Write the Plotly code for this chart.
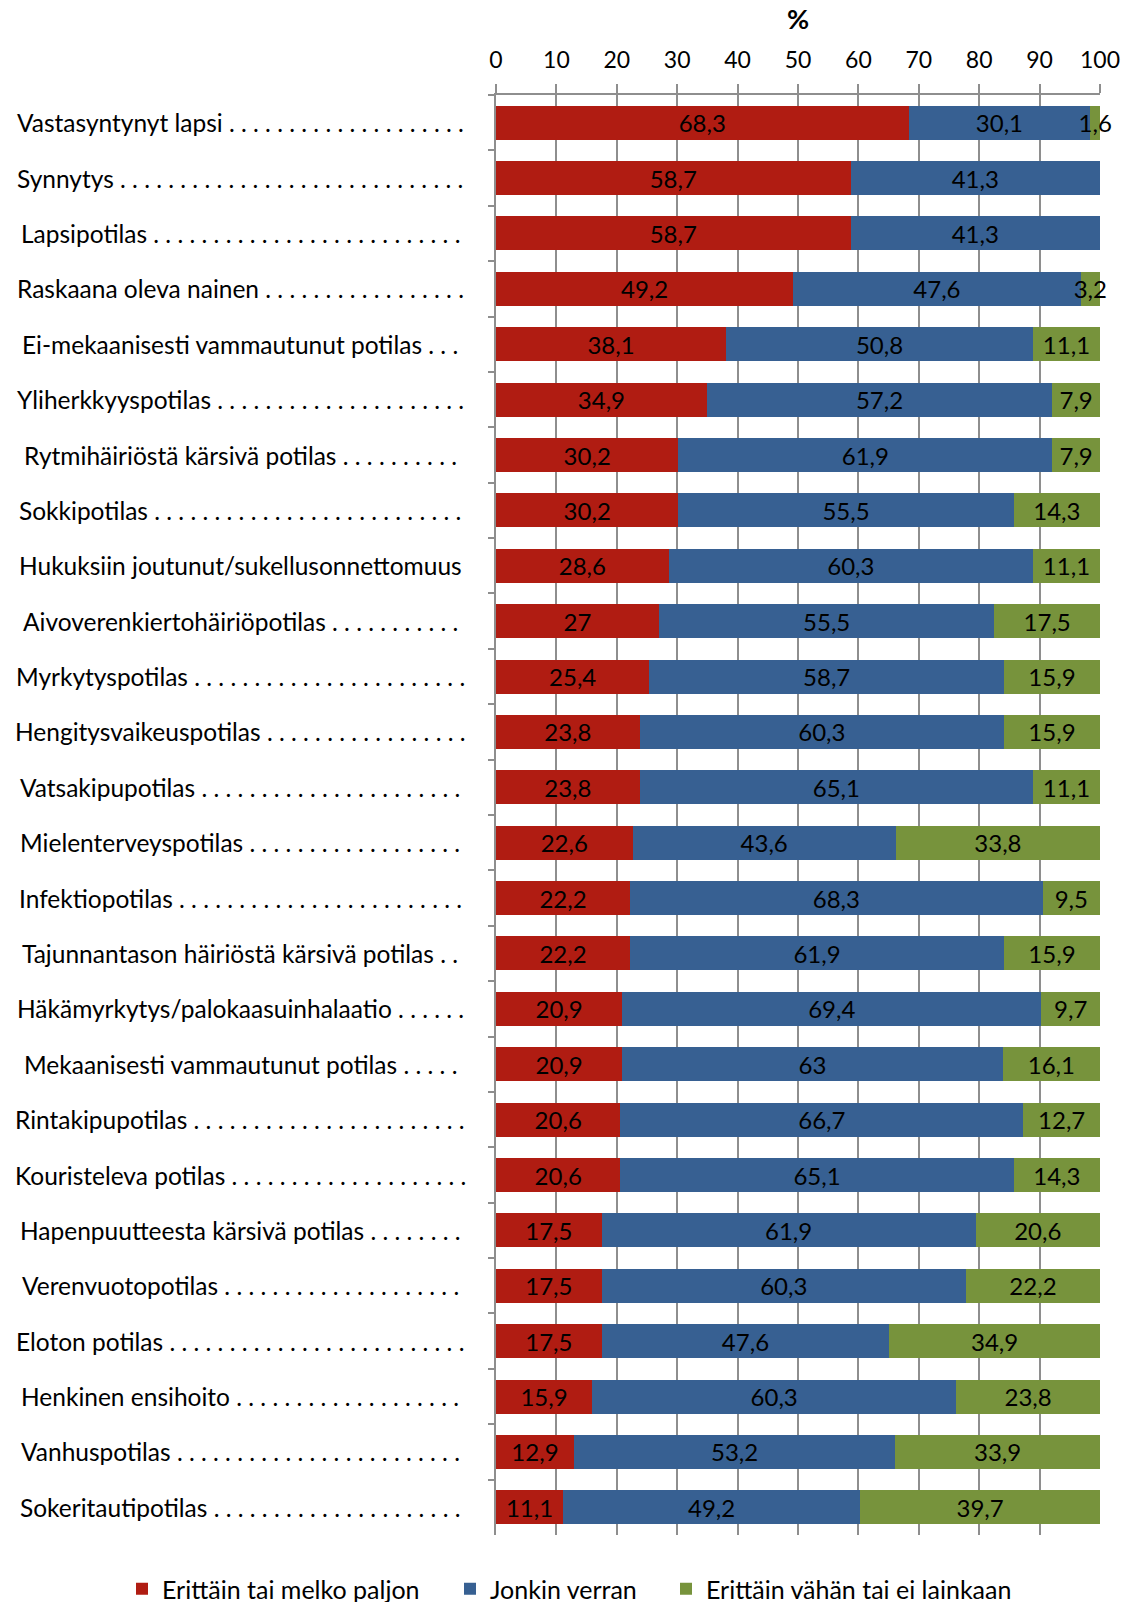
import plotly.graph_objects as go

categories = [
    "Vastasyntynyt lapsi", "Synnytys", "Lapsipotilas", "Raskaana oleva nainen",
    "Ei-mekaanisesti vammautunut potilas", "Yliherkkyyspotilas",
    "Rytmihäiriöstä kärsivä potilas", "Sokkipotilas",
    "Hukuksiin joutunut/sukellusonnettomuus", "Aivoverenkiertohäiriöpotilas",
    "Myrkytyspotilas", "Hengitysvaikeuspotilas", "Vatsakipupotilas",
    "Mielenterveyspotilas", "Infektiopotilas",
    "Tajunnantason häiriöstä kärsivä potilas",
    "Häkämyrkytys/palokaasuinhalaatio", "Mekaanisesti vammautunut potilas",
    "Rintakipupotilas", "Kouristeleva potilas",
    "Hapenpuutteesta kärsivä potilas", "Verenvuotopotilas", "Eloton potilas",
    "Henkinen ensihoito", "Vanhuspotilas", "Sokeritautipotilas",
]
leader_dots = [20, 29, 26, 17, 3, 21, 10, 26, 0, 11, 23, 17, 22, 18, 24, 2, 6, 5,
               23, 20, 8, 20, 25, 19, 24, 21]

paljon = [68.3, 58.7, 58.7, 49.2, 38.1, 34.9, 30.2, 30.2, 28.6, 27, 25.4, 23.8,
          23.8, 22.6, 22.2, 22.2, 20.9, 20.9, 20.6, 20.6, 17.5, 17.5, 17.5, 15.9,
          12.9, 11.1]
jonkin = [30.1, 41.3, 41.3, 47.6, 50.8, 57.2, 61.9, 55.5, 60.3, 55.5, 58.7, 60.3,
          65.1, 43.6, 68.3, 61.9, 69.4, 63, 66.7, 65.1, 61.9, 60.3, 47.6, 60.3,
          53.2, 49.2]
vahan = [1.6, 0, 0, 3.2, 11.1, 7.9, 7.9, 14.3, 11.1, 17.5, 15.9, 15.9, 11.1, 33.8,
         9.5, 15.9, 9.7, 16.1, 12.7, 14.3, 20.6, 22.2, 34.9, 23.8, 33.9, 39.7]

series_names = ["Erittäin tai melko paljon", "Jonkin verran",
                "Erittäin vähän tai ei lainkaan"]
colors = ["#B01C12", "#376092", "#77933C"]
x_ticks = [0, 10, 20, 30, 40, 50, 60, 70, 80, 90, 100]

FONT = "Lato"
W, H = 1136, 1602
L, R, T, B = 496, 36, 95, 67
pw = W - L - R
ph = H - T - B

# legend text start positions (px) for each series
legend_text_x = [162, 490, 706]
legend_ids = ["legend", "legend2", "legend3"]


def fmt(v):
    return "" if v == 0 else f"{v:g}".replace(".", ",")


fig = go.Figure()
for name, vals, col, lid in zip(series_names, [paljon, jonkin, vahan], colors, legend_ids):
    fig.add_trace(go.Bar(
        y=categories, x=vals, name=name, orientation="h",
        marker=dict(color=col, line=dict(width=0)),
        text=[fmt(v) for v in vals], textposition="inside",
        insidetextanchor="middle", constraintext="none", textangle=0,
        textfont=dict(family=FONT, size=24, color="black"),
        cliponaxis=False, legend=lid,
    ))

center_px = 240
for cat, n in zip(categories, leader_dots):
    label = cat + (" " + " ".join(["."] * n) if n else "")
    fig.add_annotation(
        x=(center_px - L) / pw, xref="paper", y=cat, yref="y",
        text=label, showarrow=False, xanchor="center", yanchor="middle",
        font=dict(family=FONT, size=24.5, color="black"),
    )

fig.add_annotation(
    x=0.5, xref="paper", y=1 + (T - 18) / ph, yref="paper", yanchor="middle",
    text="<b>%</b>", showarrow=False,
    font=dict(family=FONT, size=27, color="black"),
)

legend_common = dict(
    orientation="h", xref="container", yref="container",
    xanchor="left", y=1 - 1589 / H, yanchor="middle",
    font=dict(family=FONT, size=25, color="black"),
    bgcolor="rgba(0,0,0,0)", borderwidth=0,
)

fig.update_layout(
    width=W, height=H,
    margin=dict(l=L, r=R, t=T, b=B, autoexpand=False),
    barmode="stack", bargap=0.386,
    plot_bgcolor="white", paper_bgcolor="white",
    font=dict(family=FONT, size=23, color="black"),
    xaxis=dict(
        side="top", range=[0, 100.0001], tickvals=x_ticks,
        ticktext=[str(t) for t in x_ticks],
        showgrid=True, gridcolor="#8E8E8E", gridwidth=2,
        showline=True, linecolor="#8E8E8E", linewidth=2,
        ticks="outside", ticklen=9, tickcolor="#8E8E8E", tickwidth=2,
        ticklabelstandoff=7,
        tickfont=dict(family=FONT, size=23, color="black"), zeroline=False,
        fixedrange=True,
    ),
    yaxis=dict(
        autorange="reversed", showticklabels=False,
        showline=True, linecolor="#8E8E8E", linewidth=2,
        ticks="outside", tickson="boundaries", ticklen=6, tickcolor="#8E8E8E",
        tickwidth=2, showgrid=False,
    ),
    legend=dict(legend_common, x=(legend_text_x[0] - 40) / W),
    legend2=dict(legend_common, x=(legend_text_x[1] - 40) / W),
    legend3=dict(legend_common, x=(legend_text_x[2] - 40) / W),
    showlegend=True,
)

fig.write_html("out.html")
